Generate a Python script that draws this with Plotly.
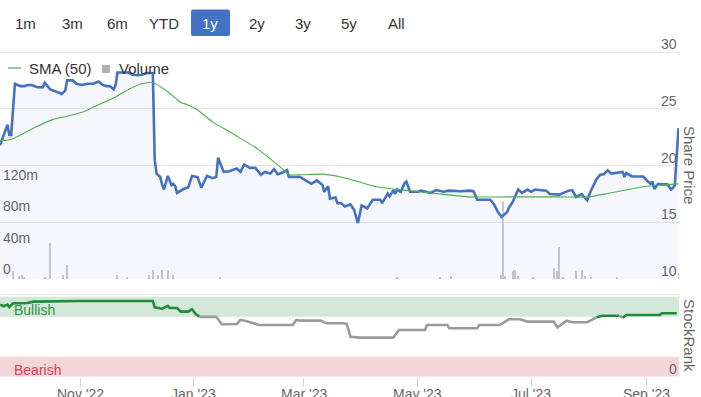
import plotly.graph_objects as go

W, H = 701, 397

# ---------------- data ----------------
price_dates = [
    "2022-09-19", "2022-09-21", "2022-09-23", "2022-09-24", "2022-09-25", "2022-09-27", "2022-09-30",
    "2022-10-02", "2022-10-04", "2022-10-06", "2022-10-09", "2022-10-12", "2022-10-13", "2022-10-16",
    "2022-10-18", "2022-10-21", "2022-10-22", "2022-10-24", "2022-10-25", "2022-10-28", "2022-10-30",
    "2022-11-02", "2022-11-05", "2022-11-08", "2022-11-11", "2022-11-13", "2022-11-15", "2022-11-17",
    "2022-11-19", "2022-11-20", "2022-11-21", "2022-11-24", "2022-11-27", "2022-11-29", "2022-12-02",
    "2022-12-04", "2022-12-07", "2022-12-10", "2022-12-11", "2022-12-12", "2022-12-14", "2022-12-15",
    "2022-12-16", "2022-12-18", "2022-12-20", "2022-12-21", "2022-12-22", "2022-12-23", "2022-12-26",
    "2022-12-29", "2022-12-31", "2023-01-03", "2023-01-05", "2023-01-08", "2023-01-11", "2023-01-13",
    "2023-01-14", "2023-01-17", "2023-01-20", "2023-01-24", "2023-01-26", "2023-01-28", "2023-01-31",
    "2023-02-03", "2023-02-06", "2023-02-08", "2023-02-11", "2023-02-13", "2023-02-15", "2023-02-17",
    "2023-02-20", "2023-02-21", "2023-02-27", "2023-02-28", "2023-03-03", "2023-03-05", "2023-03-08",
    "2023-03-11", "2023-03-12", "2023-03-14", "2023-03-15", "2023-03-18", "2023-03-19", "2023-03-21",
    "2023-03-23", "2023-03-26", "2023-03-28", "2023-03-30", "2023-04-01", "2023-04-04", "2023-04-07",
    "2023-04-11", "2023-04-12", "2023-04-15", "2023-04-16", "2023-04-18", "2023-04-19", "2023-04-20",
    "2023-04-22", "2023-04-24", "2023-04-25", "2023-04-27", "2023-05-01", "2023-05-03", "2023-05-08",
    "2023-05-11", "2023-05-15", "2023-05-18", "2023-05-24", "2023-05-29", "2023-05-31", "2023-06-02",
    "2023-06-06", "2023-06-09", "2023-06-11", "2023-06-13", "2023-06-15", "2023-06-18", "2023-06-19",
    "2023-06-21", "2023-06-24", "2023-06-26", "2023-06-29", "2023-07-01", "2023-07-03", "2023-07-07",
    "2023-07-09", "2023-07-11", "2023-07-16", "2023-07-21", "2023-07-23", "2023-07-25", "2023-07-28",
    "2023-07-31", "2023-08-02", "2023-08-05", "2023-08-07", "2023-08-09", "2023-08-11", "2023-08-13",
    "2023-08-16", "2023-08-19", "2023-08-20", "2023-08-21", "2023-08-24", "2023-08-30", "2023-09-01",
    "2023-09-03", "2023-09-04", "2023-09-05", "2023-09-07", "2023-09-09", "2023-09-12", "2023-09-14",
    "2023-09-15", "2023-09-16", "2023-09-18",
]
price_values = [
    21.8, 22.7, 23.6, 22.7, 22.7, 27.2, 27.0,
    27.0, 27.1, 27.1, 26.9, 26.9, 27.3, 26.7,
    26.6, 26.4, 26.3, 26.6, 27.5, 27.5, 27.2,
    27.1, 27.2, 27.2, 27.4, 27.1, 27.0, 27.0,
    26.7, 27.1, 28.2, 28.2, 28.2, 28.0, 27.95,
    28.0, 28.15, 28.15, 20.5, 19.3, 19.0, 18.3,
    17.9, 19.1, 18.3, 18.4, 18.2, 17.6, 17.9,
    18.1, 19.1, 19.0, 18.05, 19.1, 18.9, 19.0,
    20.7, 19.45, 19.5, 19.75, 19.45, 20.1, 19.8,
    19.8, 19.2, 19.45, 19.3, 19.7, 19.25, 19.35,
    19.6, 19.0, 19.0, 18.9, 18.6, 18.4, 18.7,
    18.3, 17.7, 18.2, 17.1, 17.2, 16.7, 16.7,
    16.4, 16.6, 16.1, 14.95, 16.5, 16.25, 17.0,
    17.0, 16.7, 17.55, 17.3, 17.85, 17.5, 17.9,
    17.7, 18.45, 18.6, 17.7, 17.7, 17.8, 17.6,
    17.85, 17.7, 17.8, 17.75, 17.8, 17.75, 17.0,
    17.0, 17.0, 16.6, 15.95, 15.5, 15.9, 16.3,
    16.8, 17.9, 17.6, 17.9, 17.7, 17.9, 17.8,
    17.8, 17.5, 17.45, 17.8, 17.85, 17.25, 17.5,
    16.95, 17.8, 18.8, 19.2, 19.25, 19.6, 19.3,
    19.35, 19.45, 19.0, 19.35, 19.05, 19.05, 18.7,
    18.4, 18.6, 17.95, 18.4, 18.35, 18.35, 17.9,
    18.05, 18.3, 23.3,
]

sma_dates = [
    "2022-09-19", "2022-09-25", "2022-10-07", "2022-10-17", "2022-10-25", "2022-11-02", "2022-11-10",
    "2022-11-20", "2022-11-28", "2022-12-04", "2022-12-10", "2022-12-18", "2022-12-25", "2022-12-28",
    "2023-01-03", "2023-01-11", "2023-01-20", "2023-01-26", "2023-02-04", "2023-02-11", "2023-02-18",
    "2023-02-21", "2023-02-28", "2023-03-11", "2023-03-22", "2023-04-02", "2023-04-09", "2023-04-23",
    "2023-05-08", "2023-05-29", "2023-06-19", "2023-07-16", "2023-08-01", "2023-08-12", "2023-08-21",
    "2023-08-30", "2023-09-08", "2023-09-18",
]
sma_values = [
    22.2, 22.3, 23.3, 24.05, 24.35, 24.7, 25.3,
    26.05, 26.8, 27.2, 27.3, 26.5, 25.55, 25.4,
    24.9, 23.85, 23.0, 22.4, 21.5, 20.6, 19.65,
    19.2, 19.2, 19.25, 18.95, 18.45, 18.15, 17.85,
    17.6, 17.25, 17.25, 17.25, 17.25, 17.6, 17.85,
    18.15, 18.3, 18.4,
]

volume_dates = [
    "2022-09-26", "2022-09-29", "2022-10-01", "2022-10-02", "2022-10-13", "2022-10-16", "2022-10-23",
    "2022-10-25", "2022-11-21", "2022-11-26", "2022-12-08", "2022-12-10", "2022-12-13", "2022-12-15",
    "2022-12-18", "2022-12-21", "2023-01-15", "2023-04-20", "2023-05-13", "2023-05-19", "2023-06-15",
    "2023-06-16", "2023-06-17", "2023-06-21", "2023-06-22", "2023-06-24", "2023-07-02", "2023-07-13",
    "2023-07-15", "2023-07-16", "2023-07-18", "2023-07-25", "2023-07-28", "2023-07-30", "2023-08-02",
    "2023-08-16", "2023-09-18",
]
volume_values = [  # millions of shares
    10, 4, 5, 3, 3, 46, 5,
    18, 6, 3, 5, 12, 5, 12,
    12, 6, 3, 3, 3, 4, 5,
    100, 4, 10, 12, 4, 3, 14,
    10, 41, 3, 10, 12, 4, 3,
    3, 8,
]

rank_dates = [
    "2022-09-19", "2022-09-21", "2022-09-23", "2022-09-24", "2022-09-26", "2022-10-03", "2022-10-07",
    "2022-11-01", "2022-12-08", "2022-12-10", "2022-12-11", "2022-12-14", "2022-12-15", "2022-12-18",
    "2022-12-19", "2022-12-23", "2022-12-25", "2022-12-29", "2022-12-31", "2023-01-02", "2023-01-04",
    "2023-01-11", "2023-01-13", "2023-01-16", "2023-01-19", "2023-01-24", "2023-01-26", "2023-01-29",
    "2023-02-05", "2023-02-23", "2023-02-25", "2023-02-27", "2023-03-10", "2023-03-13", "2023-03-22",
    "2023-03-24", "2023-03-26", "2023-03-31", "2023-04-18", "2023-04-20", "2023-04-21", "2023-05-05",
    "2023-05-06", "2023-05-17", "2023-05-18", "2023-06-02", "2023-06-03", "2023-06-14", "2023-06-19",
    "2023-06-25", "2023-06-29", "2023-07-13", "2023-07-15", "2023-07-20", "2023-07-23", "2023-07-31",
    "2023-08-05", "2023-08-08", "2023-08-17", "2023-08-19", "2023-08-21", "2023-09-08", "2023-09-09",
    "2023-09-17",
]
rank_values = [
    90, 88, 90, 87, 91.7, 91.7, 93.8,
    94.6, 94.6, 94.6, 86.7, 85, 85, 88.4,
    85.9, 85.9, 81.3, 81.3, 84.3, 78.4, 74.8,
    74.8, 74.8, 65.5, 65.9, 65.9, 70.9, 69.6,
    64.5, 64.5, 70.9, 70, 70, 66.7, 66.7,
    65.9, 50, 48.8, 48.8, 56, 58.4, 58.4,
    64.6, 64.6, 60.5, 60.5, 64.6, 64.6, 71.7,
    71.7, 68.8, 68.8, 61.7, 70, 68, 68,
    74.2, 76.2, 76.2, 73.7, 77, 77, 79.2,
    79.2,
]

range_buttons = ["1m", "3m", "6m", "YTD", "1y", "2y", "3y", "5y", "All"]
selected_button = "1y"
x_tick_dates = ["2022-11-01", "2023-01-01", "2023-03-01", "2023-05-01", "2023-07-01", "2023-09-01"]
x_tick_labels = ["Nov '22", "Jan '23", "Mar '23", "May '23", "Jul '23", "Sep '23"]
price_ticks = [10, 15, 20, 25, 30]
volume_ticks = [0, 40, 80, 120]
volume_tick_labels = ["0", "40m", "80m", "120m"]
rank_ticks = [0]
rank_bands = {"Bullish": (75, 100), "Bearish": (0, 25)}

# ---------------- styles ----------------
FONT = "Liberation Sans, Arial, sans-serif"
BLUE = "#4471c0"
SMA_GREEN = "#4cae4f"
RANK_GREEN = "#1f8b3b"
RANK_GRAY = "#9b9b9b"
BULL_THRESHOLD = 75

# price pane geometry (pixels): value 10 at y=279.3, value 30 at y=52
P_BOT, P_30 = 279.3, 52.0
P_SCALE = (P_BOT - P_30) / 20.0          # px per price unit
PANE_TOP = 33.0                           # pane extends a little above 30
PRICE_MAX = 30 + (P_30 - PANE_TOP) / P_SCALE
VOL_SCALE = 0.7875                        # px per million shares
VOL_MAX = (P_BOT - PANE_TOP) / VOL_SCALE


def pxx(x):
    return x / W


def pxy(y):
    return 1 - y / H


fig = go.Figure()

# volume bars (behind price)
fig.add_trace(go.Bar(
    x=volume_dates, y=volume_values, yaxis="y", xaxis="x",
    marker=dict(color="#c9cacf", line=dict(width=0)),
    width=86400000 * 1.1, name="Volume", showlegend=False, hoverinfo="skip",
))

# price area + line
fig.add_trace(go.Scatter(
    x=price_dates, y=price_values, yaxis="y2", xaxis="x", mode="lines",
    line=dict(color=BLUE, width=2.6), fill="tozeroy",
    fillcolor="rgba(68,114,196,0.055)", name="Share Price", showlegend=False,
))

# SMA
fig.add_trace(go.Scatter(
    x=sma_dates, y=sma_values, yaxis="y2", xaxis="x", mode="lines",
    line=dict(color=SMA_GREEN, width=1.1, shape="spline", smoothing=0.6),
    name="SMA (50)", showlegend=False,
))

# StockRank split into colour runs
runs = []
for i in range(len(rank_values) - 1):
    mid = (rank_values[i] + rank_values[i + 1]) / 2
    col = RANK_GREEN if mid >= BULL_THRESHOLD else RANK_GRAY
    if runs and runs[-1][0] == col:
        runs[-1][1].append(i + 1)
    else:
        runs.append([col, [i, i + 1]])
for col, idx in runs:
    fig.add_trace(go.Scatter(
        x=[rank_dates[j] for j in idx], y=[rank_values[j] for j in idx],
        yaxis="y3", xaxis="x", mode="lines",
        line=dict(color=col, width=2.6), showlegend=False, name="StockRank",
    ))

shapes = []
annotations = []
tickfont = dict(family=FONT, size=14, color="#666666")

# StockRank bands
band_colors = {"Bullish": ("#d4e8da", "#2f9446"), "Bearish": ("#f5d6d8", "#d9424e")}
for label, (lo, hi) in rank_bands.items():
    fc, tc = band_colors[label]
    shapes.append(dict(type="rect", xref="x domain", yref="y3", x0=0, x1=1, y0=lo, y1=hi,
                       fillcolor=fc, line=dict(width=0), layer="below"))
    annotations.append(dict(xref="paper", yref="y3", x=pxx(12), y=(lo + hi) / 2 - 4,
                            text=label, showarrow=False, xanchor="left", yanchor="middle",
                            font=dict(family=FONT, size=14, color=tc)))
# top border of StockRank pane
shapes.append(dict(type="line", xref="x domain", yref="y3 domain", x0=0, x1=1, y0=1, y1=1,
                   line=dict(color="#e6e6e6", width=1), layer="below"))

# right-hand tick labels, sitting just above their grid values
for v in price_ticks:
    annotations.append(dict(xref="paper", yref="y2", x=pxx(678.5), y=v, text=str(v),
                            showarrow=False, xanchor="right", yanchor="middle", yshift=8,
                            font=tickfont))
for v in rank_ticks:
    annotations.append(dict(xref="paper", yref="y3", x=pxx(678.5), y=v, text=str(v),
                            showarrow=False, xanchor="right", yanchor="middle", yshift=8,
                            font=tickfont))

# x-axis labels (placed like the reference, partly below the page edge)
for d, lbl in zip(x_tick_dates, x_tick_labels):
    annotations.append(dict(xref="x", yref="paper", x=d, y=pxy(393.5), text=lbl,
                            showarrow=False, xanchor="center", yanchor="middle",
                            font=tickfont))

# range selector buttons
btn_x = [25, 72, 117, 164, 210, 257, 303, 349, 396]
for lbl, bx in zip(range_buttons, btn_x):
    sel = lbl == selected_button
    if sel:
        x0, x1, y0, y1, r = 191, 230, 9.5, 36, 2
        path = (f"M {pxx(x0 + r)} {pxy(y0)} L {pxx(x1 - r)} {pxy(y0)} "
                f"Q {pxx(x1)} {pxy(y0)} {pxx(x1)} {pxy(y0 + r)} L {pxx(x1)} {pxy(y1 - r)} "
                f"Q {pxx(x1)} {pxy(y1)} {pxx(x1 - r)} {pxy(y1)} L {pxx(x0 + r)} {pxy(y1)} "
                f"Q {pxx(x0)} {pxy(y1)} {pxx(x0)} {pxy(y1 - r)} L {pxx(x0)} {pxy(y0 + r)} "
                f"Q {pxx(x0)} {pxy(y0)} {pxx(x0 + r)} {pxy(y0)} Z")
        shapes.append(dict(type="path", xref="paper", yref="paper", path=path,
                           fillcolor="#4472c4", line=dict(width=0)))
    annotations.append(dict(xref="paper", yref="paper", x=pxx(bx), y=pxy(23.5), text=lbl,
                            showarrow=False, xanchor="center", yanchor="middle",
                            font=dict(family=FONT, size=15, color="#ffffff" if sel else "#333333")))

# legend (manual)
shapes.append(dict(type="line", xref="paper", yref="paper", x0=pxx(8), x1=pxx(21),
                   y0=pxy(68), y1=pxy(68), line=dict(color=SMA_GREEN, width=1.2)))
annotations.append(dict(xref="paper", yref="paper", x=pxx(27), y=pxy(68), text="SMA (50)",
                        showarrow=False, xanchor="left", yanchor="middle",
                        font=dict(family=FONT, size=15, color="#333333")))
shapes.append(dict(type="rect", xref="paper", yref="paper", x0=pxx(102), x1=pxx(110),
                   y0=pxy(65), y1=pxy(73), fillcolor="#b0b0b4", line=dict(width=0)))
annotations.append(dict(xref="paper", yref="paper", x=pxx(117), y=pxy(68), text="Volume",
                        showarrow=False, xanchor="left", yanchor="middle",
                        font=dict(family=FONT, size=15, color="#333333")))

# axis titles (rotated clockwise)
annotations.append(dict(xref="paper", yref="paper", x=pxx(690), y=pxy(165), text="Share Price",
                        showarrow=False, textangle=90, xanchor="center", yanchor="middle",
                        font=dict(family=FONT, size=15, color="#666666")))
annotations.append(dict(xref="paper", yref="paper", x=pxx(690), y=pxy(335), text="StockRank",
                        showarrow=False, textangle=90, xanchor="center", yanchor="middle",
                        font=dict(family=FONT, size=15, color="#666666")))

top_dom = [pxy(P_BOT), pxy(PANE_TOP)]
rank_dom = [pxy(376.7), pxy(294.5)]

fig.update_layout(
    width=W, height=H, margin=dict(l=0, r=0, t=0, b=0, pad=0), autosize=False,
    paper_bgcolor="white", plot_bgcolor="white",
    showlegend=False, bargap=0, hovermode=False,
    font=dict(family=FONT),
    xaxis=dict(type="date", domain=[0, pxx(679)], range=["2022-09-19", "2023-09-18 06:00"],
               anchor="y3", tickvals=x_tick_dates, showticklabels=False,
               ticks="outside", ticklen=9, tickcolor="#ccd6eb", automargin=False,
               showgrid=False, zeroline=False, showline=False, fixedrange=True),
    yaxis=dict(domain=top_dom, range=[0, VOL_MAX], side="left", anchor="x",
               tickvals=volume_ticks, ticktext=volume_tick_labels, automargin=False,
               ticklabelposition="inside top", tickfont=tickfont,
               showgrid=False, zeroline=False, showline=False, ticks=""),
    yaxis2=dict(range=[10, PRICE_MAX], overlaying="y", side="right", anchor="x",
                tickvals=price_ticks, showticklabels=False,
                showgrid=True, gridcolor="#e6e6e6", gridwidth=1, automargin=False,
                zeroline=False, showline=False, ticks=""),
    yaxis3=dict(domain=rank_dom, range=[0, 102.7], side="right", anchor="x",
                tickvals=rank_ticks, showticklabels=False,
                showgrid=False, zeroline=False, showline=False, ticks="", automargin=False),
    shapes=shapes, annotations=annotations,
)

fig.write_html(
    "out.html",
    config={"displayModeBar": False, "responsive": False},
    post_script="document.body.style.margin='0';document.body.style.overflow='hidden';",
)
